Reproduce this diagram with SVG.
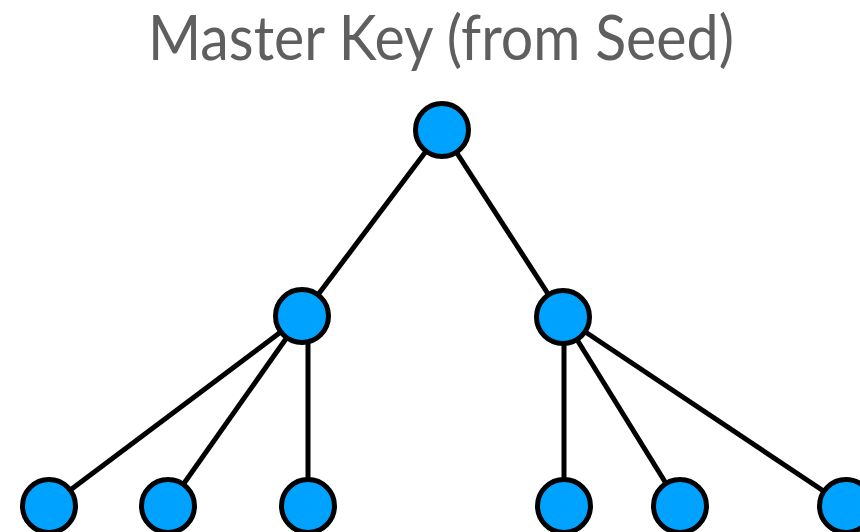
<svg xmlns="http://www.w3.org/2000/svg" width="860" height="532" viewBox="0 0 860 532">
  <style>
    .title { font-family: Lato, "Liberation Sans", sans-serif; font-size: 62px; fill: #5f5f5f; }
    .edge { stroke: #000; stroke-width: 5; fill: none; stroke-linecap: butt; }
    .node { fill: #00a2ff; stroke: #000; stroke-width: 5; }
  </style>
  <rect width="860" height="532" fill="#fff"/>
  <text class="title" x="148" y="60" textLength="586" lengthAdjust="spacingAndGlyphs">Master Key (from Seed)</text>

  <g id="connectors">
    <line class="edge" x1="442" y1="130" x2="302" y2="316"/>
    <line class="edge" x1="442" y1="130" x2="563" y2="317"/>
    <line class="edge" x1="302" y1="316" x2="49" y2="506"/>
    <line class="edge" x1="302" y1="316" x2="168" y2="506"/>
    <line class="edge" x1="308" y1="316" x2="308" y2="506"/>
    <line class="edge" x1="564" y1="317" x2="564" y2="506"/>
    <line class="edge" x1="563" y1="317" x2="680" y2="506"/>
    <line class="edge" x1="563" y1="317" x2="846" y2="506"/>
  </g>

  <g id="root"><circle class="node" cx="442" cy="130" r="26.5"/></g>
  <g id="child-left"><circle class="node" cx="302" cy="316" r="26.5"/></g>
  <g id="child-right"><circle class="node" cx="563" cy="317" r="26.5"/></g>
  <g id="leaf-1"><circle class="node" cx="49" cy="506" r="26.5"/></g>
  <g id="leaf-2"><circle class="node" cx="168" cy="506" r="26.5"/></g>
  <g id="leaf-3"><circle class="node" cx="308" cy="506" r="26.5"/></g>
  <g id="leaf-4"><circle class="node" cx="564" cy="506" r="26.5"/></g>
  <g id="leaf-5"><circle class="node" cx="680" cy="506" r="26.5"/></g>
  <g id="leaf-6"><circle class="node" cx="846" cy="506" r="26.5"/></g>
</svg>
